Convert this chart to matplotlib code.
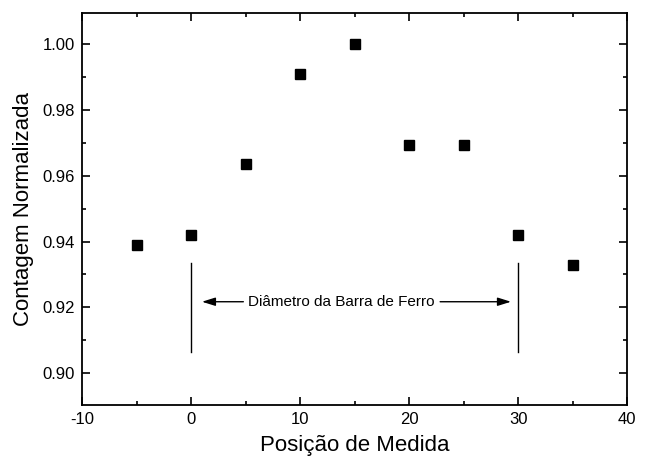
import matplotlib
matplotlib.use("Agg")
import matplotlib.pyplot as plt
from matplotlib.ticker import MultipleLocator

plt.rcParams["font.family"] = ["Liberation Sans", "DejaVu Sans"]

posicao = [-5, 0, 5, 10, 15, 20, 25, 30, 35]
contagem = [0.939, 0.942, 0.9635, 0.991, 1.000, 0.9695, 0.9695, 0.942, 0.9328]

# marcas do diametro da barra
barra_x = [0, 30]
barra_y0 = 0.9065
barra_y1 = 0.9335
seta_y = 0.9217

fig = plt.figure(figsize=(6.52, 4.67), dpi=100)
ax = fig.add_axes([0.1258, 0.1328, 0.836, 0.840])

ax.plot(posicao, contagem, "s", color="black", markersize=7, linestyle="none")

for bx in barra_x:
    ax.plot([bx, bx], [barra_y0, barra_y1], color="black", linewidth=1)

arrow = dict(arrowstyle="-|>,head_length=0.8,head_width=0.25", color="black",
             linewidth=1, shrinkA=0, shrinkB=0)
ax.annotate("", xy=(1.0, seta_y), xytext=(4.8, seta_y), arrowprops=arrow)
ax.annotate("", xy=(29.35, seta_y), xytext=(22.85, seta_y), arrowprops=arrow)
ax.text(13.8, seta_y, "Diâmetro da Barra de Ferro", ha="center", va="center", fontsize=11)

ax.set_xlim(-10, 40)
ax.set_ylim(0.8903, 1.0096)
ax.xaxis.set_major_locator(MultipleLocator(10))
ax.xaxis.set_minor_locator(MultipleLocator(5))
ax.yaxis.set_major_locator(MultipleLocator(0.02))
ax.yaxis.set_minor_locator(MultipleLocator(0.01))
ax.yaxis.set_major_formatter(plt.FormatStrFormatter("%.2f"))
ax.xaxis.set_major_formatter(plt.FormatStrFormatter("%d"))

ax.tick_params(which="both", direction="in", top=True, right=True, width=1.2)
ax.tick_params(which="major", length=6, labelsize=12, pad=5)
ax.tick_params(which="minor", length=3)
for s in ax.spines.values():
    s.set_linewidth(1.3)

ax.set_xlabel("Posição de Medida", fontsize=16, labelpad=6)
ax.set_ylabel("Contagem Normalizada", fontsize=16, labelpad=6)

fig.savefig("out.png", dpi=100)
